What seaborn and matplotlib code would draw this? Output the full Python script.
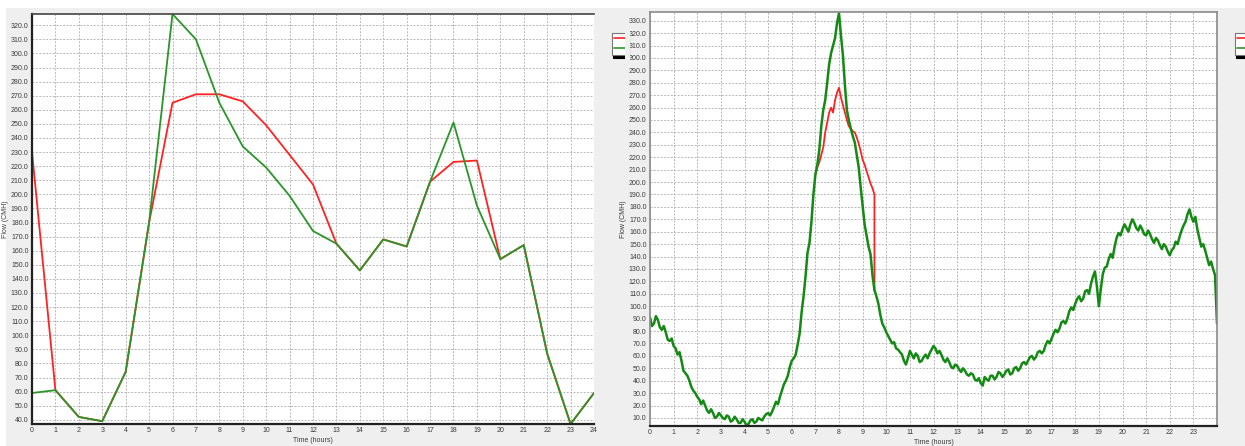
import numpy as np
import pandas as pd
import matplotlib
matplotlib.use("Agg")
import matplotlib.pyplot as plt
import seaborn as sns
from matplotlib.patches import Rectangle
from matplotlib.lines import Line2D

sns.set_style("white")
plt.rcParams['font.family'] = ['Liberation Sans Narrow', 'Liberation Sans', 'DejaVu Sans']

# ---- hourly flows (left chart) ----
hours = list(range(0, 25))
green_hourly = [59, 61, 42, 39, 74, 180, 328, 310, 265, 234, 219, 199, 174,
                165, 146, 168, 163, 209, 251, 192, 154, 164, 87, 37, 59]
red_hourly = [230, 61, 42, 39, 74, 180, 265, 271, 271, 266, 249, 228, 207,
              165, 146, 168, 163, 209, 223, 224, 154, 164, 87, 37, 59]

# ---- 5-minute flows (right chart), one row per hour ----
green_5min = [
    91, 84, 86, 92, 89, 83, 81, 84, 79, 73, 72, 74,
    68, 66, 61, 63, 56, 48, 46, 44, 40, 35, 32, 30,
    27, 25, 21, 24, 20, 16, 14, 17, 14, 10, 11, 14,
    12, 10, 9, 12, 11, 7, 8, 11, 9, 6, 6, 9,
    7, 4, 5, 8, 9, 6, 7, 10, 9, 8, 11, 13,
    14, 12, 15, 19, 23, 21, 27, 32, 37, 40, 44, 51,
    56, 58, 61, 69, 78, 95, 108, 124, 143, 151, 168, 190,
    206, 214, 226, 245, 258, 266, 280, 295, 304, 310, 316, 328,
    336, 318, 302, 278, 258, 250, 243, 237, 232, 222, 212, 196,
    181, 166, 157, 148, 142, 125, 113, 108, 102, 93, 86, 83,
    79, 76, 73, 70, 71, 66, 65, 63, 61, 56, 53, 58,
    64, 61, 58, 62, 60, 55, 56, 59, 61, 58, 62, 65,
    68, 66, 62, 64, 61, 57, 55, 58, 55, 51, 50, 53,
    52, 49, 47, 50, 48, 45, 44, 46, 45, 41, 40, 42,
    38, 36, 43, 41, 40, 44, 44, 41, 43, 47, 46, 43,
    45, 48, 49, 45, 46, 50, 51, 48, 50, 54, 55, 53,
    56, 59, 60, 57, 59, 63, 64, 62, 64, 69, 72, 70,
    74, 78, 81, 79, 82, 87, 88, 86, 90, 96, 99, 97,
    102, 106, 108, 104, 106, 112, 113, 110, 118, 124, 128, 116,
    100, 114, 126, 131, 132, 138, 142, 139, 148, 155, 159, 157,
    162, 166, 163, 160, 166, 170, 167, 163, 161, 165, 162, 158,
    157, 161, 158, 154, 151, 155, 153, 149, 146, 150, 148, 144,
    141, 145, 147, 152, 150, 156, 161, 165, 168, 174, 178, 172,
    168, 172, 162, 155, 148, 150, 145, 139, 133, 136, 130, 125,
    86,
]
green_minutes = list(range(0, 1441, 5))

red_minutes = list(range(420, 571, 5)) + [570]
red_5min = [206, 212, 216, 222, 228, 240, 248, 256, 260, 256, 266, 272,
            276, 268, 262, 256, 250, 245, 243, 241, 240, 236, 231, 225,
            218, 214, 209, 204, 199, 195, 190, 113]

left_ticks_y = list(range(40, 321, 10))
right_ticks_y = list(range(10, 331, 10))

RED = "#ff2222"
GREEN = "#2a962a"
GREEN_DARK = "#138a13"
PANEL = "#efefef"
TXT = "#3a3a3a"

fig = plt.figure(figsize=(12.45, 4.46), dpi=100, facecolor="white")
W, H = 1245, 446
fig.add_artist(Rectangle((6 / W, 0), 1, 1 - 8 / H, transform=fig.transFigure,
                         facecolor=PANEL, edgecolor="none", zorder=-5))


def px_axes(l, t, r, b):
    return fig.add_axes([l / W, 1 - b / H, (r - l) / W, (b - t) / H])


def style(ax, yticks, xticks, xmax):
    ax.set_facecolor("white")
    ax.set_yticks(yticks)
    ax.set_yticklabels([f"{v:.1f}" for v in yticks])
    ax.set_xticks(xticks)
    ax.set_xticklabels([str(v) for v in xticks])
    ax.set_xlim(0, xmax)
    ax.tick_params(axis="both", length=0, labelsize=5, colors=TXT, pad=2.5)
    ax.grid(True, color="#b8b8b8", linestyle=(0, (2, 1.5)), linewidth=0.7)
    ax.set_axisbelow(True)
    ax.set_xlabel("Time (hours)", fontsize=5, color=TXT, labelpad=2)
    ax.set_ylabel("Flow (CMH)", fontsize=5, color=TXT, labelpad=1)


# ---- left chart ----
axL = px_axes(32, 14, 594, 424)
dfL = pd.DataFrame({"hour": hours, "green": green_hourly, "red": red_hourly})
sns.lineplot(data=dfL, x="hour", y="red", ax=axL, color=RED, linewidth=1.3)
sns.lineplot(data=dfL, x="hour", y="green", ax=axL, color=GREEN, linewidth=1.3)
axL.set_ylim(37, 328)
style(axL, left_ticks_y, list(range(0, 25)), 24)
for s in ["left", "bottom"]:
    axL.spines[s].set_color("#222222")
    axL.spines[s].set_linewidth(1.6)
axL.spines["top"].set_color("#444444")
axL.spines["top"].set_linewidth(1.2)
axL.spines["right"].set_visible(False)

# ---- right chart ----
axR = px_axes(650, 12, 1217, 426)
dfG = pd.DataFrame({"t": np.array(green_minutes) / 60, "v": green_5min})
dfR = pd.DataFrame({"t": np.array(red_minutes) / 60, "v": red_5min})
sns.lineplot(data=dfR, x="t", y="v", ax=axR, color=RED, linewidth=1.3,
             sort=False, estimator=None)
sns.lineplot(data=dfG, x="t", y="v", ax=axR, color=GREEN_DARK, linewidth=1.8,
             estimator=None)
axR.set_ylim(3.5, 337)
style(axR, right_ticks_y, list(range(0, 24)), 24)
for s in ["left", "top", "right"]:
    axR.spines[s].set_color("#8a8a8a")
    axR.spines[s].set_linewidth(1.2)
axR.spines["bottom"].set_color("#222222")
axR.spines["bottom"].set_linewidth(1.6)

# ---- small series keys ----
handles = [Line2D([], [], color=RED, lw=1.2), Line2D([], [], color=GREEN, lw=1.2)]
for ax, x0 in [(axL, 612), (axR, 1235)]:
    leg = ax.legend(handles, ["", ""], loc="upper left",
                    bbox_to_anchor=(x0 / W, 1 - 33 / H),
                    bbox_transform=fig.transFigure, fontsize=5,
                    handlelength=1.6, handletextpad=0.0, borderpad=0.35,
                    borderaxespad=0.0,
                    labelspacing=0.5, frameon=True, fancybox=False,
                    shadow={"color": "black", "alpha": 1.0, "ox": 1, "oy": -2})
    leg.get_frame().set_edgecolor("#777777")
    leg.get_frame().set_linewidth(0.8)

# the key of the left chart is cut off by the neighbouring pane
fig.add_artist(Rectangle((625 / W, 1 - 64 / H), 5 / W, 36 / H,
                         transform=fig.transFigure, facecolor=PANEL,
                         edgecolor="none", zorder=10))

fig.savefig("out.png", dpi=100, facecolor=fig.get_facecolor())
